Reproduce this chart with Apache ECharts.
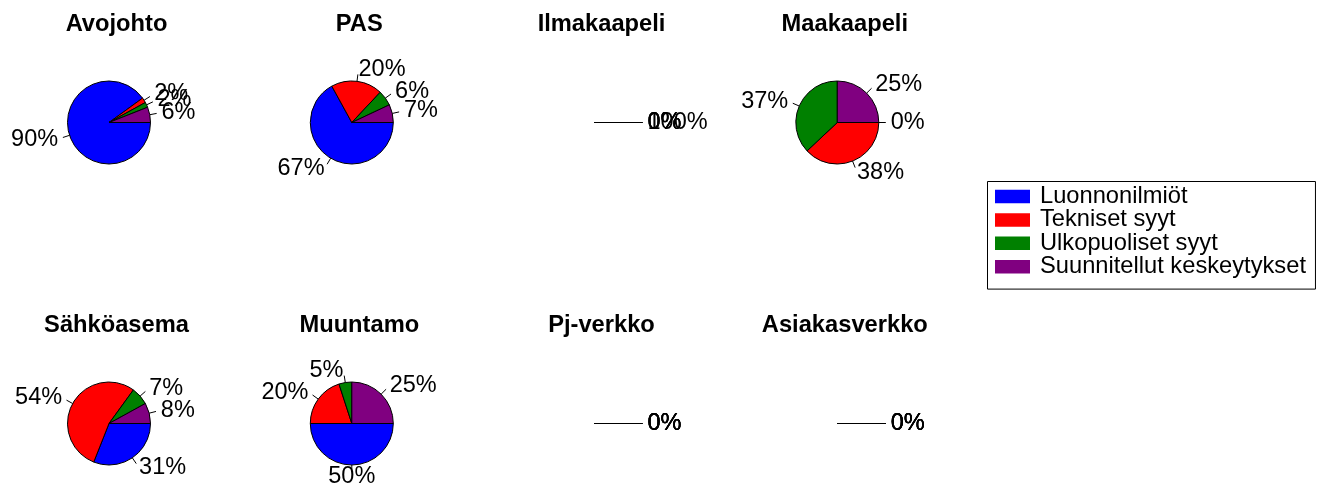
<!DOCTYPE html>
<html>
<head>
<meta charset="utf-8">
<script src="https://cdn.jsdelivr.net/npm/echarts@6/dist/echarts.min.js"></script>
<style>html,body{margin:0;padding:0;background:#fff}#c{width:1325px;height:484px}</style>
</head>
<body>
<div id="c"></div>
<script>
const categories = ['Luonnonilmiöt', 'Tekniset syyt', 'Ulkopuoliset syyt', 'Suunnitellut keskeytykset'];
const pieTitles = ['Avojohto', 'PAS', 'Ilmakaapeli', 'Maakaapeli', 'Sähköasema', 'Muuntamo', 'Pj-verkko', 'Asiakasverkko'];
const avojohto = [90, 2, 2, 6];
const pas = [67, 20, 6, 7];
const ilmakaapeli = [0, 0, 0, 0];
const maakaapeli = [0, 38, 37, 25];
const sahkoasema = [31, 54, 7, 8];
const muuntamo = [50, 20, 5, 25];
const pjVerkko = [0, 0, 0, 0];
const asiakasverkko = [0, 0, 0, 0];
const ilmakaapeliLabels = ['0%', '0%', '0%', '100%'];
const colors = ['#0000FF', '#FF0000', '#008000', '#800080'];

const pieValues = [avojohto, pas, ilmakaapeli, maakaapeli, sahkoasema, muuntamo, pjVerkko, asiakasverkko];
const labelOverrides = [null, null, ilmakaapeliLabels, null, null, null, null, null];

const colX = [109, 351.8, 594, 837.3];
const rowY = [122.5, 423.5];
const titleY = [24, 325];
const TITLE_DX = 7.5;
const R = 41.5;
const TICK = 7;
const LABEL_R = 53.5;
const FONT = '"Liberation Sans", Arial, Helvetica, sans-serif';
const LABEL_SIZE = 23.5;

const measureCtx = document.createElement('canvas').getContext('2d');
measureCtx.font = LABEL_SIZE + 'px ' + FONT;

const chart = echarts.init(document.getElementById('c'), null, {renderer: 'canvas'});

const series = [];
pieValues.forEach((vals, i) => {
  const col = i % 4, row = Math.floor(i / 4);
  const ov = labelOverrides[i];
  const txt = k => ov ? ov[k] : vals[k] + '%';
  const sum = vals.reduce((a, b) => a + b, 0);
  const common = {
    type: 'pie',
    name: pieTitles[i],
    center: [colX[col], rowY[row]],
    radius: R,
    startAngle: 0,
    clockwise: true,
    stillShowZeroSum: false,
    showEmptyCircle: false,
    avoidLabelOverlap: false,
    minAngle: 0,
    animation: false,
    silent: true,
    emphasis: {disabled: true, scale: false},
    labelLayout: {hideOverlap: false, moveOverlap: null}
  };
  // visible sectors + short tick lines
  series.push(Object.assign({}, common, {
    itemStyle: {borderColor: '#000', borderWidth: 1},
    label: {show: true, position: 'outside', color: 'rgba(0,0,0,0)', fontSize: LABEL_SIZE, fontFamily: FONT,
      distanceToLabelLine: 0, formatter: p => txt(p.dataIndex)},
    labelLine: {show: true, length: TICK, length2: 0, smooth: false, lineStyle: {color: '#000', width: 1}},
    data: categories.map((c, k) => ({name: c, value: vals[k]}))
  }));
  // label texts placed further out
  let cum = 0;
  const dataB = categories.map((c, k) => {
    const mid = sum ? (cum + vals[k] / 2) / sum : 0;
    cum += vals[k];
    const dx = Math.cos(mid * 2 * Math.PI);
    const item = {name: c, value: vals[k]};
    if (Math.abs(dx) < 0.02) {
      item.labelLine = {length2: -measureCtx.measureText(txt(k)).width / 2};
    }
    return item;
  });
  series.push(Object.assign({}, common, {
    itemStyle: {color: 'rgba(0,0,0,0)', borderWidth: 0},
    label: {show: true, position: 'outside', color: '#000', fontSize: LABEL_SIZE, fontFamily: FONT,
      lineHeight: LABEL_SIZE, padding: [0, 0, 5, 0],
      distanceToLabelLine: 0, formatter: p => txt(p.dataIndex)},
    labelLine: {show: true, length: LABEL_R - R, length2: 0, smooth: false, lineStyle: {color: 'rgba(0,0,0,0)', width: 0}},
    data: dataB
  }));
});

const graphics = pieTitles.map((t, i) => ({
  type: 'text',
  x: colX[i % 4] + TITLE_DX,
  y: titleY[Math.floor(i / 4)],
  silent: true,
  style: {
    text: t,
    fontSize: 23.7,
    fontWeight: 'bold',
    fontFamily: FONT,
    fill: '#000',
    align: 'center',
    verticalAlign: 'middle'
  }
}));

chart.setOption({
  animation: false,
  color: colors,
  backgroundColor: '#fff',
  legend: {
    data: categories,
    orient: 'vertical',
    left: 987.5,
    top: 181.5,
    icon: 'rect',
    itemWidth: 35,
    itemHeight: 13.5,
    itemGap: -0.6,
    padding: [3, 9.5, 10.4, 7.5],
    borderColor: '#000',
    borderWidth: 1,
    selectedMode: false,
    itemStyle: {borderWidth: 0},
    textStyle: {fontSize: 23.7, fontFamily: FONT, color: '#000', lineHeight: 22, padding: [0, 0, 0, 5]}
  },
  graphic: graphics,
  series: series
});
</script>
</body>
</html>
